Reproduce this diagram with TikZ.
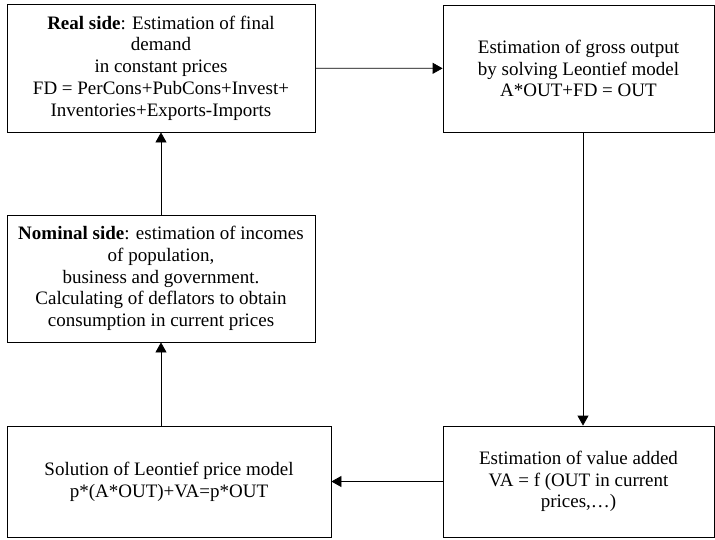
\documentclass[tikz,border=0pt]{standalone}
\usepackage{fontspec}
\setmainfont{Liberation Serif}
\usetikzlibrary{arrows.meta}

\begin{document}
\begin{tikzpicture}[x=1pt, y=-1pt,
    box/.style={draw, line width=0.8pt, inner sep=0pt, align=center,
        font=\fontsize{19}{21.7}\selectfont},
    >={Triangle[length=10pt, width=11pt]}]
                \useasboundingbox (0,0) rectangle (715,539);
                % Nodes
                \node[box, minimum width=308, minimum height=128] (real) at (161,68)
                    {\textbf{Real side}: Estimation of final\\ demand\\ in constant prices\\
                     FD = PerCons+PubCons+Invest+\\ Inventories+Exports-Imports};
                \node[box, minimum width=271, minimum height=127] (gross) at (578.5,68.5)
                    {Estimation of gross output\\ by solving Leontief model\\ A*OUT+FD = OUT};
                \node[box, minimum width=308, minimum height=127] (nominal) at (161,278.5)
                    {\textbf{Nominal side}: estimation of incomes\\ of population,\\
                     business and government.\\ Calculating of deflators to obtain\\
                     consumption in current prices};
                \node[box, minimum width=324, minimum height=111] (price) at (169,481.5)
                    {Solution of Leontief price model\\ p*(A*OUT)+VA=p*OUT};
                \node[box, minimum width=271, minimum height=111] (valadd) at (578.5,481.5)
                    {Estimation of value added\\ VA = f (OUT in current\\ prices,\ldots)};

                % Edges
                \draw[->, line width=0.8pt] (real)--(gross);
                \draw[->, line width=0.8pt] ([xshift=4.5]gross.south)--([xshift=4.5]valadd.north);
                \draw[->, line width=0.8pt] (valadd)--(price);
                \draw[->, line width=0.8pt] (price.north -| nominal.south)--(nominal);
                \draw[->, line width=0.8pt] (nominal)--(real);
            \end{tikzpicture}
\end{document}
